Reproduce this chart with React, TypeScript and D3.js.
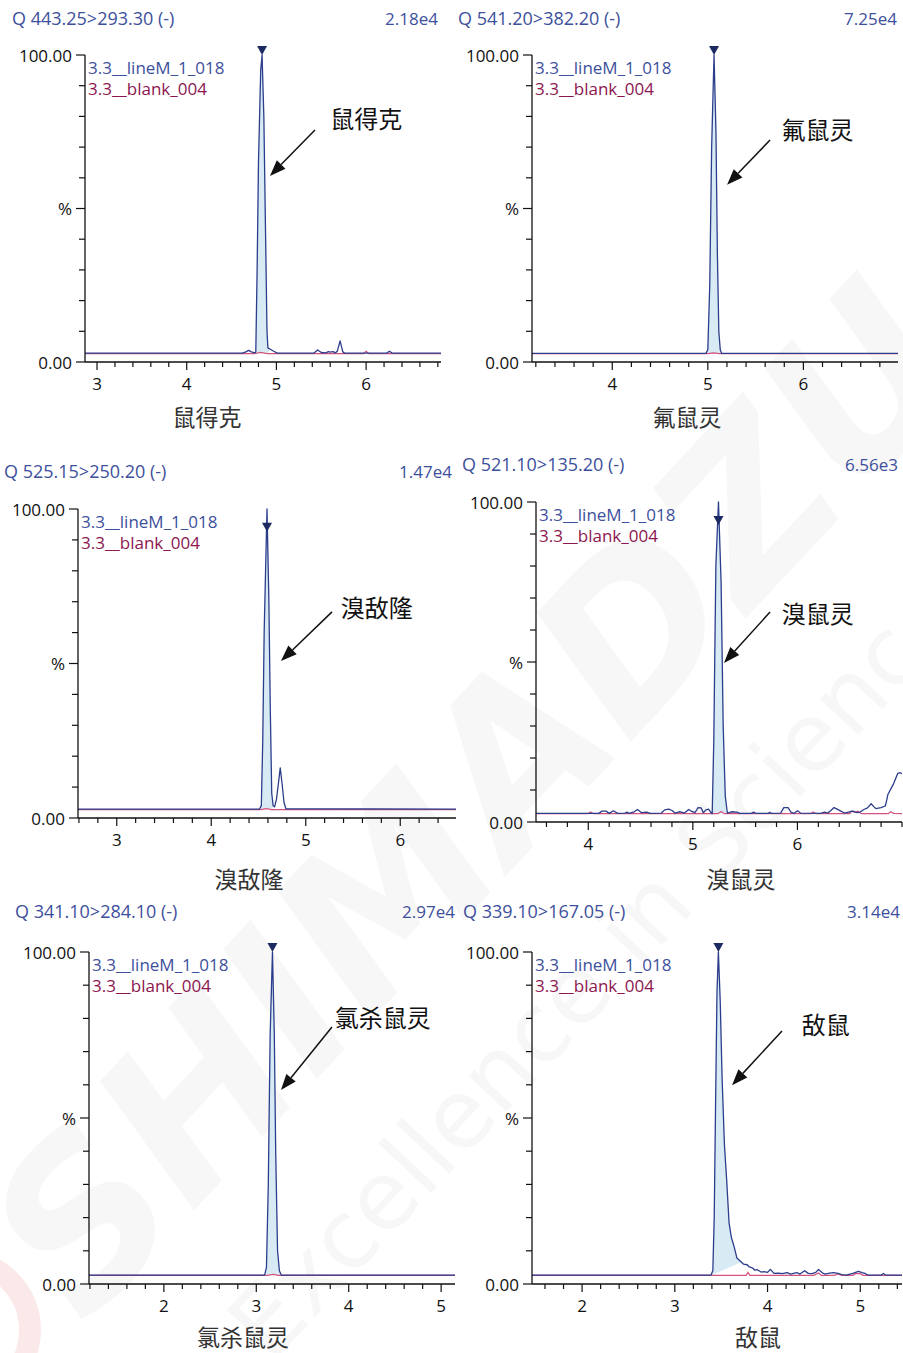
import React from "react";
import * as d3 from "d3";

type Pt = [number, number];

// ---- chart data (retention time in min, intensity in %) ----
const titles = [
  "Q 443.25>293.30 (-)",
  "Q 541.20>382.20 (-)",
  "Q 525.15>250.20 (-)",
  "Q 521.10>135.20 (-)",
  "Q 341.10>284.10 (-)",
  "Q 339.10>167.05 (-)",
];
const scaleLabels = ["2.18e4", "7.25e4", "1.47e4", "6.56e3", "2.97e4", "3.14e4"];
const compounds = ["鼠得克", "氟鼠灵", "溴敌隆", "溴鼠灵", "氯杀鼠灵", "敌鼠"];
const sampleName = "3.3__lineM_1_018";
const blankName = "3.3__blank_004";

const xDomains: Pt[] = [
  [2.866, 6.835],
  [3.16, 6.99],
  [2.59, 6.59],
  [3.5, 7.0],
  [1.19, 5.15],
  [1.46, 5.45],
];
const xTickLabels = [
  [3, 4, 5, 6],
  [4, 5, 6],
  [3, 4, 5, 6],
  [4, 5, 6],
  [2, 3, 4, 5],
  [2, 3, 4, 5],
];
const yTickValues = d3.range(0, 101, 10);
const yTickLabels: Record<number, string> = { 0: "0.00", 50: "%", 100: "100.00" };

const sample1: Pt[] = [[2.866,2.9],[4.62,2.9],[4.66,3.3],[4.69,3.8],[4.72,3.3],[4.76,3.0],[4.77,3.2],[4.785,30],[4.80,65],[4.825,95],[4.84,100],[4.86,80],[4.88,40],[4.895,10],[4.905,4.6],[4.94,4.0],[4.97,3.5],[5.01,2.9],[5.42,2.9],[5.46,3.9],[5.50,3.1],[5.55,3.0],[5.58,3.4],[5.60,3.2],[5.63,3.4],[5.66,3.0],[5.68,3.6],[5.71,6.9],[5.74,3.3],[5.76,2.9],[6.23,2.9],[6.26,3.5],[6.29,2.9],[6.835,2.9]];
const blank1: Pt[] = [[2.866,2.7],[4.76,2.7],[4.82,3.1],[4.90,2.7],[5.97,2.7],[6.0,3.5],[6.03,2.7],[6.835,2.7]];

const sample2: Pt[] = [[3.16,2.8],[4.98,2.8],[5.00,4],[5.02,25],[5.04,70],[5.065,100],[5.085,75],[5.10,35],[5.115,10],[5.13,4],[5.145,2.8],[6.99,2.8]];
const blank2: Pt[] = [[3.16,2.7],[5.0,2.7],[5.06,3.0],[5.12,2.7],[6.99,2.7]];

const sample3: Pt[] = [[2.59,2.9],[4.51,2.9],[4.53,4],[4.545,25],[4.56,60],[4.59,100],[4.61,70],[4.625,35],[4.64,8],[4.655,4],[4.67,3.6],[4.69,6],[4.71,11],[4.73,16.2],[4.75,11],[4.77,5],[4.79,3.0],[6.59,2.9]];
const blank3: Pt[] = [[2.59,2.7],[4.52,2.7],[4.58,3.0],[4.64,2.7],[6.59,2.7]];

const sample4: Pt[] = [[3.5,2.7],[4.10,2.7],[4.13,3.4],[4.17,3.4],[4.20,2.7],[4.24,3.5],[4.28,2.7],[4.35,2.8],[4.37,3.1],[4.39,2.7],[4.44,3.2],[4.47,3.9],[4.51,2.9],[4.56,3.1],[4.59,2.7],[4.70,2.8],[4.73,3.8],[4.77,4.0],[4.80,3.6],[4.83,2.8],[4.87,3.2],[4.89,3.1],[4.92,2.8],[4.96,3.9],[4.99,3.3],[5.02,2.9],[5.05,4.5],[5.08,4.4],[5.10,2.9],[5.125,3.8],[5.15,4.0],[5.17,3.1],[5.185,2.6],[5.20,25],[5.22,80],[5.245,100],[5.27,75],[5.29,30],[5.31,8],[5.33,2.8],[5.37,3.2],[5.42,3.1],[5.45,2.7],[5.56,2.7],[5.58,3.1],[5.60,2.7],[5.72,2.7],[5.735,3.0],[5.75,2.7],[5.84,2.8],[5.87,4.5],[5.91,4.5],[5.94,3.0],[5.97,2.7],[6.0,3.5],[6.03,2.8],[6.22,2.7],[6.26,3.1],[6.29,2.8],[6.32,3.6],[6.35,4.5],[6.38,4.0],[6.41,3.5],[6.45,2.8],[6.50,3.2],[6.53,3.4],[6.57,2.9],[6.60,3.1],[6.635,3.9],[6.67,4.4],[6.705,5.7],[6.73,4.8],[6.75,4.2],[6.80,4.5],[6.84,5.0],[6.855,7.0],[6.865,8.6],[6.92,12.0],[6.96,15.2],[6.98,15.4],[7.0,15.1]];
const blank4: Pt[] = [[3.5,2.6],[4.0,2.6],[4.02,3.1],[4.05,2.6],[5.24,2.6],[5.27,3.3],[5.30,2.6],[6.13,2.6],[6.15,3.1],[6.18,2.6],[6.50,2.6],[6.52,3.4],[6.55,3.0],[6.58,3.4],[6.61,2.6],[6.87,2.6],[6.89,3.2],[6.92,2.7],[7.0,2.6]];

const sample5: Pt[] = [[1.19,2.7],[3.09,2.7],[3.11,5],[3.13,30],[3.15,75],[3.175,100],[3.195,75],[3.21,40],[3.23,10],[3.25,4],[3.27,2.7],[5.15,2.7]];
const blank5: Pt[] = [[1.19,2.6],[3.12,2.6],[3.18,2.9],[3.24,2.6],[5.15,2.6]];

const sample6: Pt[] = [[1.46,2.7],[3.39,2.7],[3.41,4],[3.425,20],[3.44,55],[3.455,88],[3.47,100],[3.49,85],[3.51,62],[3.535,42],[3.56,31],[3.585,18.4],[3.61,14],[3.64,11.2],[3.67,7.8],[3.71,6.8],[3.74,6.0],[3.78,5.8],[3.80,5.2],[3.84,4.8],[3.86,4.2],[3.89,4.3],[3.93,3.6],[3.96,3.7],[4.00,3.5],[4.03,4.4],[4.07,3.2],[4.12,3.3],[4.16,3.1],[4.21,3.4],[4.25,3.0],[4.29,3.3],[4.32,3.4],[4.35,3.0],[4.40,4.0],[4.44,3.2],[4.48,3.1],[4.52,3.5],[4.55,4.4],[4.59,3.4],[4.62,3.0],[4.67,3.3],[4.71,3.4],[4.76,3.2],[4.80,2.8],[4.85,2.7],[4.92,3.2],[4.98,3.8],[5.02,3.4],[5.05,3.2],[5.08,2.7],[5.23,2.7],[5.25,3.2],[5.27,2.7],[5.45,2.7]];
const blank6: Pt[] = [[1.46,2.6],[3.77,2.6],[3.79,3.5],[3.81,2.6],[4.50,2.6],[4.55,3.3],[4.58,2.6],[4.72,2.6],[4.76,3.0],[4.80,2.6],[4.92,2.6],[4.95,3.1],[5.00,3.1],[5.03,2.6],[5.45,2.6]];

const samples = [sample1, sample2, sample3, sample4, sample5, sample6];
const blanks = [blank1, blank2, blank3, blank4, blank5, blank6];

// integration start / end of the filled peak
const integrations: Pt[][] = [
  [[4.77, 3.0], [4.92, 3.0]],
  [[4.99, 2.8], [5.14, 2.8]],
  [[4.52, 3.0], [4.655, 3.0]],
  [[5.185, 2.6], [5.33, 2.8]],
  [[3.10, 2.7], [3.26, 2.7]],
  [[3.40, 2.7], [3.72, 6.6]],
];
// peak marker (time, tip %)
const markers: Pt[] = [[4.84, 100], [5.065, 100], [4.59, 92.6], [5.245, 92.8], [3.175, 100], [3.47, 100]];
// annotation arrows: tail, tip, label start (time, %)
const arrowTails: Pt[] = [[5.43, 75.6], [5.651, 72.3], [5.278, 66.7], [5.738, 65.6], [3.819, 77.4], [4.156, 76.2]];
const arrowTips: Pt[] = [[4.928, 60.6], [5.201, 57.7], [4.738, 50.8], [5.298, 49.7], [3.267, 58.4], [3.617, 59.9]];
const labelAnchors: Pt[] = [[5.60, 79.8], [5.77, 75.9], [5.37, 68.6], [5.85, 65.6], [3.85, 80.7], [4.37, 78.6]];

// ---- layout ----
const W = 903;
const H = 1353;
const frames = [
  { x0: 85, x1: 441, top: 55, bot: 362, tx: 12, ty: 18, sx: 438, lx: 207, ly: 416 },
  { x0: 532, x1: 898, top: 55, bot: 362, tx: 458, ty: 18, sx: 897, lx: 687, ly: 416 },
  { x0: 78, x1: 456, top: 509, bot: 818, tx: 4, ty: 471, sx: 452, lx: 249, ly: 878 },
  { x0: 536, x1: 902, top: 502, bot: 822, tx: 462, ty: 464, sx: 898, lx: 741, ly: 878 },
  { x0: 89, x1: 455, top: 952, bot: 1284, tx: 15, ty: 911, sx: 455, lx: 243, ly: 1336 },
  { x0: 532, x1: 902, top: 952, bot: 1284, tx: 463, ty: 911, sx: 900, lx: 758, ly: 1336 },
];

const FONT = "'Open Sans', 'Noto Sans CJK SC', sans-serif";
const CJK = "'Noto Sans CJK SC', sans-serif";
const TITLE_BLUE = "#3d509c";
const LINE_BLUE = "#2c3d8c";
const BLANK_RED = "#d4527e";
const BLANK_TEXT = "#8c1650";
const FILL = "#d8ebf4";

function interp(pts: Pt[], t: number) {
  const i = d3.bisector((d: Pt) => d[0]).left(pts, t);
  if (i <= 0) return pts[0][1];
  if (i >= pts.length) return pts[pts.length - 1][1];
  const [t0, v0] = pts[i - 1];
  const [t1, v1] = pts[i];
  return v0 + ((t - t0) / (t1 - t0)) * (v1 - v0);
}

function Panel({ i }: { i: number }) {
  const f = frames[i];
  const x = d3.scaleLinear().domain(xDomains[i]).range([f.x0, f.x1]);
  const y = d3.scaleLinear().domain([0, 100]).range([f.bot, f.top]);
  const line = d3.line<Pt>().x((d) => x(d[0])).y((d) => y(d[1]));

  const [[s, bs], [e, be]] = integrations[i];
  const sample = samples[i];
  const peakPts: Pt[] = [
    [s, interp(sample, s)],
    ...sample.filter((d) => d[0] > s && d[0] < e),
    [e, interp(sample, e)],
  ];
  const base = (t: number) => bs + ((t - s) / (e - s)) * (be - bs);
  const area = d3
    .area<Pt>()
    .x((d) => x(d[0]))
    .y0((d) => y(base(d[0])))
    .y1((d) => y(d[1]));

  const [d0, d1] = xDomains[i];
  const minor = d3.range(Math.ceil(d0 * 5 - 1e-6), Math.floor(d1 * 5 + 1e-6) + 1).map((k) => k / 5);
  const majors = xTickLabels[i];

  const [mt, mv] = markers[i];
  const mx = x(mt);
  const my = y(mv);

  const [at, av] = arrowTails[i];
  const [pt, pv] = arrowTips[i];
  const ax1 = x(at), ay1 = y(av), ax2 = x(pt), ay2 = y(pv);
  const ang = Math.atan2(ay2 - ay1, ax2 - ax1);
  const hl = 16, hw = 6;
  const bx = ax2 - hl * Math.cos(ang), by = ay2 - hl * Math.sin(ang);
  const head = [
    [ax2, ay2],
    [bx + hw * Math.sin(ang), by - hw * Math.cos(ang)],
    [bx - hw * Math.sin(ang), by + hw * Math.cos(ang)],
  ];
  const [lt, lv] = labelAnchors[i];

  return (
    <g>
      <text x={f.tx} y={f.ty} dominantBaseline="central" fill={TITLE_BLUE} fontSize={18} fontFamily={FONT}>
        {titles[i]}
      </text>
      <text x={f.sx} y={f.ty} dominantBaseline="central" textAnchor="end" fill={TITLE_BLUE} fontSize={17} fontFamily={FONT}>
        {scaleLabels[i]}
      </text>

      <path d={area(peakPts) || ""} fill={FILL} />
      <path d={line(blanks[i]) || ""} fill="none" stroke={BLANK_RED} strokeWidth={1.2} />
      <path d={line(sample) || ""} fill="none" stroke={LINE_BLUE} strokeWidth={1.3} strokeLinejoin="round" />
      <path d={`M${mx - 5},${my - 9}L${mx + 5},${my - 9}L${mx},${my}Z`} fill="#1c2a62" />

      {/* y axis */}
      <line x1={f.x0} x2={f.x0} y1={f.top} y2={f.bot} stroke="#111" strokeWidth={1.3} />
      {yTickValues.map((v) => (
        <line key={v} x1={f.x0 - (v % 50 === 0 ? 9 : 6)} x2={f.x0} y1={y(v)} y2={y(v)} stroke="#111" strokeWidth={1.2} />
      ))}
      {yTickValues
        .filter((v) => yTickLabels[v] !== undefined)
        .map((v) => (
          <text key={v} x={f.x0 - 13} y={y(v)} textAnchor="end" dominantBaseline="central" fontSize={17} fontFamily={FONT} fill="#111">
            {yTickLabels[v]}
          </text>
        ))}

      {/* x axis */}
      <line x1={f.x0} x2={f.x1} y1={f.bot} y2={f.bot} stroke="#111" strokeWidth={1.3} />
      {minor.map((t) => (
        <line key={t} x1={x(t)} x2={x(t)} y1={f.bot} y2={f.bot + (majors.includes(Math.round(t * 10) / 10) ? 8 : 5)} stroke="#111" strokeWidth={1.2} />
      ))}
      {majors.map((t) => (
        <text key={t} x={x(t)} y={f.bot + 21} textAnchor="middle" dominantBaseline="central" fontSize={17} fontFamily={FONT} fill="#111">
          {t}
        </text>
      ))}
      <text x={f.lx} y={f.ly} textAnchor="middle" dominantBaseline="central" fontSize={23} fontFamily={CJK} fill="#333">
        {compounds[i]}
      </text>

      {/* legend */}
      <text x={f.x0 + 3} y={f.top + 12} dominantBaseline="central" fontSize={17} fontFamily={FONT} fill={TITLE_BLUE}>
        {sampleName}
      </text>
      <text x={f.x0 + 3} y={f.top + 33} dominantBaseline="central" fontSize={17} fontFamily={FONT} fill={BLANK_TEXT}>
        {blankName}
      </text>

      {/* annotation */}
      <line x1={ax1} y1={ay1} x2={bx} y2={by} stroke="#111" strokeWidth={1.5} />
      <path d={`M${head.map((p) => p.join(",")).join("L")}Z`} fill="#111" />
      <text x={x(lt)} y={y(lv)} dominantBaseline="central" fontSize={24} fontFamily={CJK} fill="#111">
        {compounds[i]}
      </text>
    </g>
  );
}

export default function App() {
  return (
    <svg
      width={W}
      height={H}
      viewBox={`0 0 ${W} ${H}`}
      style={{ position: "absolute", left: 0, top: 0, background: "#fff", display: "block" }}
    >
      <rect width={W} height={H} fill="#fff" />
      {/* faint watermark */}
      <g>
        <circle cx={-40} cy={1330} r={70} fill="none" stroke="#fbe9ea" strokeWidth={22} />
        <text
          transform="translate(530,850) rotate(-47)"
          textAnchor="middle"
          fontSize={215}
          fontWeight={900}
          fontStyle="italic"
          fontFamily="'DejaVu Sans', sans-serif"
          fill="#f7f7f7"
        >
          SHIMADZU
        </text>
        <text
          transform="translate(620,990) rotate(-47)"
          textAnchor="middle"
          fontSize={95}
          fontFamily="'DejaVu Sans', sans-serif"
          fill="#f7f7f7"
        >
          Excellence in Science
        </text>
      </g>
      {frames.map((_, i) => (
        <Panel key={i} i={i} />
      ))}
    </svg>
  );
}
